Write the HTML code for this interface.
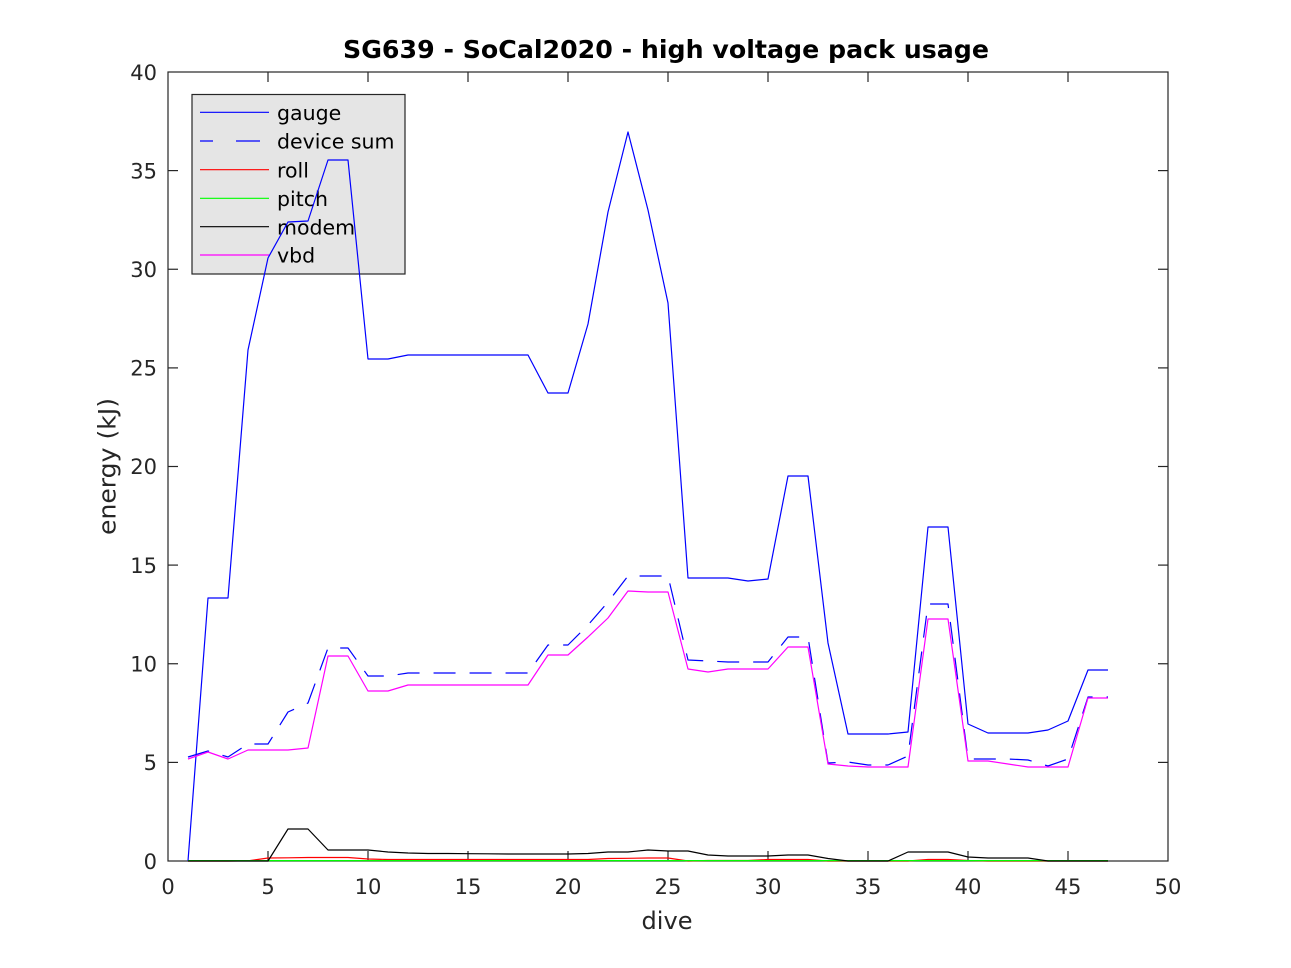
<!DOCTYPE html>
<html>
<head>
<meta charset="utf-8">
<style>
html,body{margin:0;padding:0;background:#fff;}
svg{display:block;}
text{font-family:"DejaVu Sans","Liberation Sans",sans-serif;}
</style>
</head>
<body>
<svg width="1291" height="968" viewBox="0 0 1291 968" xmlns="http://www.w3.org/2000/svg">
<rect x="0" y="0" width="1291" height="968" fill="#ffffff"/>

<!-- Title -->
<text x="666" y="58" font-size="25" font-weight="bold" text-anchor="middle" fill="#000" textLength="646" lengthAdjust="spacingAndGlyphs">SG639 - SoCal2020 - high voltage pack usage</text>

<!-- Axes box -->
<rect x="168" y="72" width="1000" height="789" fill="#fff" stroke="#262626" stroke-width="1.2"/>

<!-- ticks -->
<g stroke="#262626" stroke-width="1.2">
  <!-- x ticks bottom & top -->
  <line x1="268" y1="861" x2="268" y2="851"/><line x1="268" y1="72" x2="268" y2="82"/>
  <line x1="368" y1="861" x2="368" y2="851"/><line x1="368" y1="72" x2="368" y2="82"/>
  <line x1="468" y1="861" x2="468" y2="851"/><line x1="468" y1="72" x2="468" y2="82"/>
  <line x1="568" y1="861" x2="568" y2="851"/><line x1="568" y1="72" x2="568" y2="82"/>
  <line x1="668" y1="861" x2="668" y2="851"/><line x1="668" y1="72" x2="668" y2="82"/>
  <line x1="768" y1="861" x2="768" y2="851"/><line x1="768" y1="72" x2="768" y2="82"/>
  <line x1="868" y1="861" x2="868" y2="851"/><line x1="868" y1="72" x2="868" y2="82"/>
  <line x1="968" y1="861" x2="968" y2="851"/><line x1="968" y1="72" x2="968" y2="82"/>
  <line x1="1068" y1="861" x2="1068" y2="851"/><line x1="1068" y1="72" x2="1068" y2="82"/>
  <!-- y ticks left & right -->
  <line x1="168" y1="762.4" x2="178" y2="762.4"/><line x1="1168" y1="762.4" x2="1158" y2="762.4"/>
  <line x1="168" y1="663.75" x2="178" y2="663.75"/><line x1="1168" y1="663.75" x2="1158" y2="663.75"/>
  <line x1="168" y1="565.1" x2="178" y2="565.1"/><line x1="1168" y1="565.1" x2="1158" y2="565.1"/>
  <line x1="168" y1="466.5" x2="178" y2="466.5"/><line x1="1168" y1="466.5" x2="1158" y2="466.5"/>
  <line x1="168" y1="367.9" x2="178" y2="367.9"/><line x1="1168" y1="367.9" x2="1158" y2="367.9"/>
  <line x1="168" y1="269.25" x2="178" y2="269.25"/><line x1="1168" y1="269.25" x2="1158" y2="269.25"/>
  <line x1="168" y1="170.6" x2="178" y2="170.6"/><line x1="1168" y1="170.6" x2="1158" y2="170.6"/>
</g>

<!-- x tick labels -->
<g font-size="21" fill="#262626" text-anchor="middle">
  <text x="168" y="894">0</text>
  <text x="268" y="894">5</text>
  <text x="368" y="894">10</text>
  <text x="468" y="894">15</text>
  <text x="568" y="894">20</text>
  <text x="668" y="894">25</text>
  <text x="768" y="894">30</text>
  <text x="868" y="894">35</text>
  <text x="968" y="894">40</text>
  <text x="1068" y="894">45</text>
  <text x="1168" y="894">50</text>
</g>
<!-- y tick labels -->
<g font-size="21" fill="#262626" text-anchor="end">
  <text x="157" y="869">0</text>
  <text x="157" y="770">5</text>
  <text x="157" y="671.5">10</text>
  <text x="157" y="573">15</text>
  <text x="157" y="474">20</text>
  <text x="157" y="375.5">25</text>
  <text x="157" y="277">30</text>
  <text x="157" y="178.5">35</text>
  <text x="157" y="80">40</text>
</g>

<!-- axis labels -->
<text x="667" y="929" font-size="24" fill="#262626" text-anchor="middle" textLength="51" lengthAdjust="spacingAndGlyphs">dive</text>
<text transform="translate(115.5,466.5) rotate(-90)" font-size="24" fill="#262626" text-anchor="middle" textLength="137" lengthAdjust="spacingAndGlyphs">energy (kJ)</text>

<!-- Legend -->
<rect x="192" y="94.5" width="213" height="179.5" fill="#e5e5e5" stroke="#262626" stroke-width="1.2"/>
<line x1="200" y1="112.3" x2="269" y2="112.3" stroke="#0000ff" stroke-width="1.2"/>
<line x1="200" y1="141" x2="269" y2="141" stroke="#0000ff" stroke-width="1.2" stroke-dasharray="13 23 24 20"/>
<line x1="200" y1="169.7" x2="269" y2="169.7" stroke="#ff0000" stroke-width="1.2"/>
<line x1="200" y1="198.3" x2="269" y2="198.3" stroke="#00ff00" stroke-width="1.2"/>
<line x1="200" y1="226.7" x2="269" y2="226.7" stroke="#000000" stroke-width="1.2"/>
<line x1="200" y1="255" x2="269" y2="255" stroke="#ff00ff" stroke-width="1.2"/>
<g font-size="20.5" fill="#000">
  <text x="277" y="120">gauge</text>
  <text x="277" y="148.7">device sum</text>
  <text x="277" y="177.4">roll</text>
  <text x="277" y="206">pitch</text>
  <text x="277" y="234.4">modem</text>
  <text x="277" y="262.7">vbd</text>
</g>

<!-- Data -->
<g fill="none" stroke-width="1.2" stroke-linejoin="round">
<!-- gauge -->
<polyline stroke="#0000ff" points="188,861 208,598 228,598 248,350 268,258 288,222 308,221 328,160 348,160 368,359 388,359 408,355 428,355 448,355 468,355 488,355 508,355 528,355 548,393 568,393 588,324 608,212 628,132 648,210 668,303 688,578 708,578 728,578 748,581 768,579 788,476 808,476 828,643 848,734 868,734 888,734 908,732 928,527 948,527 968,724 988,733 1008,733 1028,733 1048,730 1068,721 1088,670 1108,670"/>
<!-- device sum -->
<polyline stroke="#0000ff" stroke-dasharray="22 14" points="188,757 208,751 228,757 248,744 268,744 288,712 308,703 328,648 348,648 368,676 388,676 408,673 428,673 448,673 468,673 488,673 508,673 528,673 548,645 568,645 588,625 608,602 628,576 648,576 668,576 688,660 708,661 728,662 748,662 768,662 788,637 808,637 828,763 848,762 868,765 888,765 908,756 928,604 948,604 968,759 988,759 1008,759 1028,760 1048,766 1068,759 1088,697 1108,697"/>
<!-- roll -->
<polyline stroke="#ff0000" points="188,861 208,861 228,861 248,860.8 268,858 288,857.8 308,857.5 328,857.5 348,857.5 368,859 388,859.5 408,859.5 428,859.5 448,859.5 468,859.5 488,859.5 508,859.5 528,859.5 548,859.5 568,859.5 588,859.5 608,858.5 628,858.3 648,858 668,858 688,861 708,860.5 728,860.5 748,860.5 768,859.5 788,859.5 808,859.5 828,861 848,861 868,861 888,861 908,861 928,859.5 948,859.5 968,860.5 988,861 1008,861 1028,861 1048,861 1068,861 1088,861 1108,861"/>
<!-- pitch -->
<polyline stroke="#00ff00" points="188,860.6 1108,860.6"/>
<!-- modem -->
<polyline stroke="#000000" points="188,861 208,861 228,861 248,861 268,861 288,829 308,829 328,850 348,850 368,850 388,852 408,853 428,853.5 448,853.5 468,853.7 488,853.8 508,854 528,854 548,854 568,854 588,853.5 608,852 628,852 648,850 668,851 688,851 708,855 728,856 748,856 768,856 788,855 808,855 828,858.5 848,861 868,861 888,861 908,852 928,852 948,852 968,857 988,858 1008,858 1028,858 1048,861 1068,861 1088,861 1108,861"/>
<!-- vbd -->
<polyline stroke="#ff00ff" points="188,759 208,752 228,759 248,750 268,750 288,750 308,748 328,656 348,656 368,691 388,691 408,685 428,685 448,685 468,685 488,685 508,685 528,685 548,655 568,655 588,637 608,618 628,591 648,592 668,592 688,669 708,672 728,669 748,669 768,669 788,647 808,647 828,764 848,766 868,767 888,767 908,767 928,619 948,619 968,761 988,761 1008,764 1028,767 1048,767 1068,767 1088,698 1108,698"/>
</g>
</svg>
</body>
</html>
